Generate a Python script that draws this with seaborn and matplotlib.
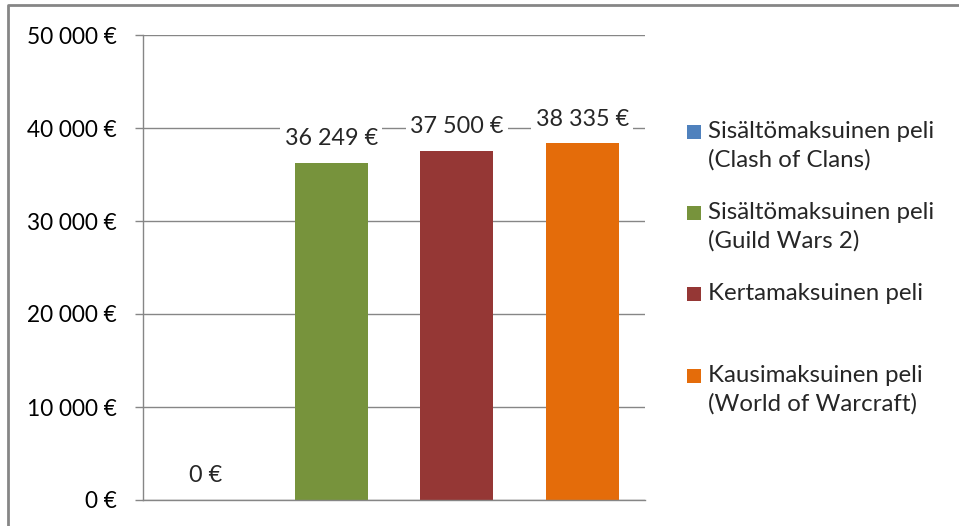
import numpy as np
import pandas as pd
import matplotlib
matplotlib.use("Agg")
import matplotlib.pyplot as plt
from matplotlib.patches import Rectangle
from matplotlib.lines import Line2D
import seaborn as sns

# data
pelit = ["Sisältömaksuinen peli\n(Clash of Clans)",
         "Sisältömaksuinen peli\n(Guild Wars 2)",
         "Kertamaksuinen peli",
         "Kausimaksuinen peli\n(World of Warcraft)"]
hinnat = [0, 36249, 37500, 38335]
varit = ["#4F81BD", "#77933C", "#953735", "#E46C0A"]
y_ticks = [0, 10000, 20000, 30000, 40000, 50000]

def euro(v):
    return f"{v:,.0f}".replace(",", " ") + " €"

sns.set_style("white")
plt.rcParams["font.family"] = ["Lato", "DejaVu Sans"]

df = pd.DataFrame({"peli": pelit, "hinta": hinnat})

W, H = 959, 526
fig = plt.figure(figsize=(W / 100, H / 100), dpi=100)
ax = fig.add_axes([143 / W, 26 / H, 502 / W, 465 / H])

sns.barplot(data=df, x="peli", y="hinta", hue="peli", palette=varit,
            saturation=1, width=0.58, legend=False, ax=ax, linewidth=0)

ax.set_ylim(0, 50000)
ax.set_xlim(-0.5, 3.5)
ax.set_yticks(y_ticks)
ax.set_yticklabels([euro(t) for t in y_ticks])
ax.set_xticks([])
ax.set_xlabel("")
ax.set_ylabel("")
ax.set_axisbelow(True)
ax.yaxis.grid(True, color="#868686", lw=1)
ax.tick_params(axis="y", direction="out", length=6, width=1,
               color="#868686", pad=13, labelsize=16.3, labelcolor="black", left=True)
for s in ["top", "right"]:
    ax.spines[s].set_visible(False)
for s in ["left", "bottom"]:
    ax.spines[s].set_color("#868686")
    ax.spines[s].set_linewidth(1)

# data labels
for cont, v in zip(ax.containers, hinnat):
    ax.bar_label(cont, labels=[euro(v)], padding=10, fontsize=16.8,
                 bbox=dict(facecolor="white", edgecolor="none", pad=3))

# legend, drawn by hand so the square sits on the first line
leg_y = [138, 219, 300, 382]
for lab, c, yb in zip(pelit, varit, leg_y):
    fig.add_artist(Rectangle((687 / W, 1 - (yb + 1) / H), 14 / W, 14 / H,
                             transform=fig.transFigure, facecolor=c, edgecolor="none"))
    for i, rivi in enumerate(lab.split("\n")):
        fig.text(708 / W, 1 - (yb + 29 * i) / H, rivi, fontsize=17.3,
                 va="baseline", ha="left")

# chart frame (only top and left visible in the crop)
fig.add_artist(Line2D([8 / W, 8 / W, 1], [0, 1 - 5 / H, 1 - 5 / H],
                      transform=fig.transFigure, color="#868686", lw=2))

fig.savefig("out.png", dpi=100)
